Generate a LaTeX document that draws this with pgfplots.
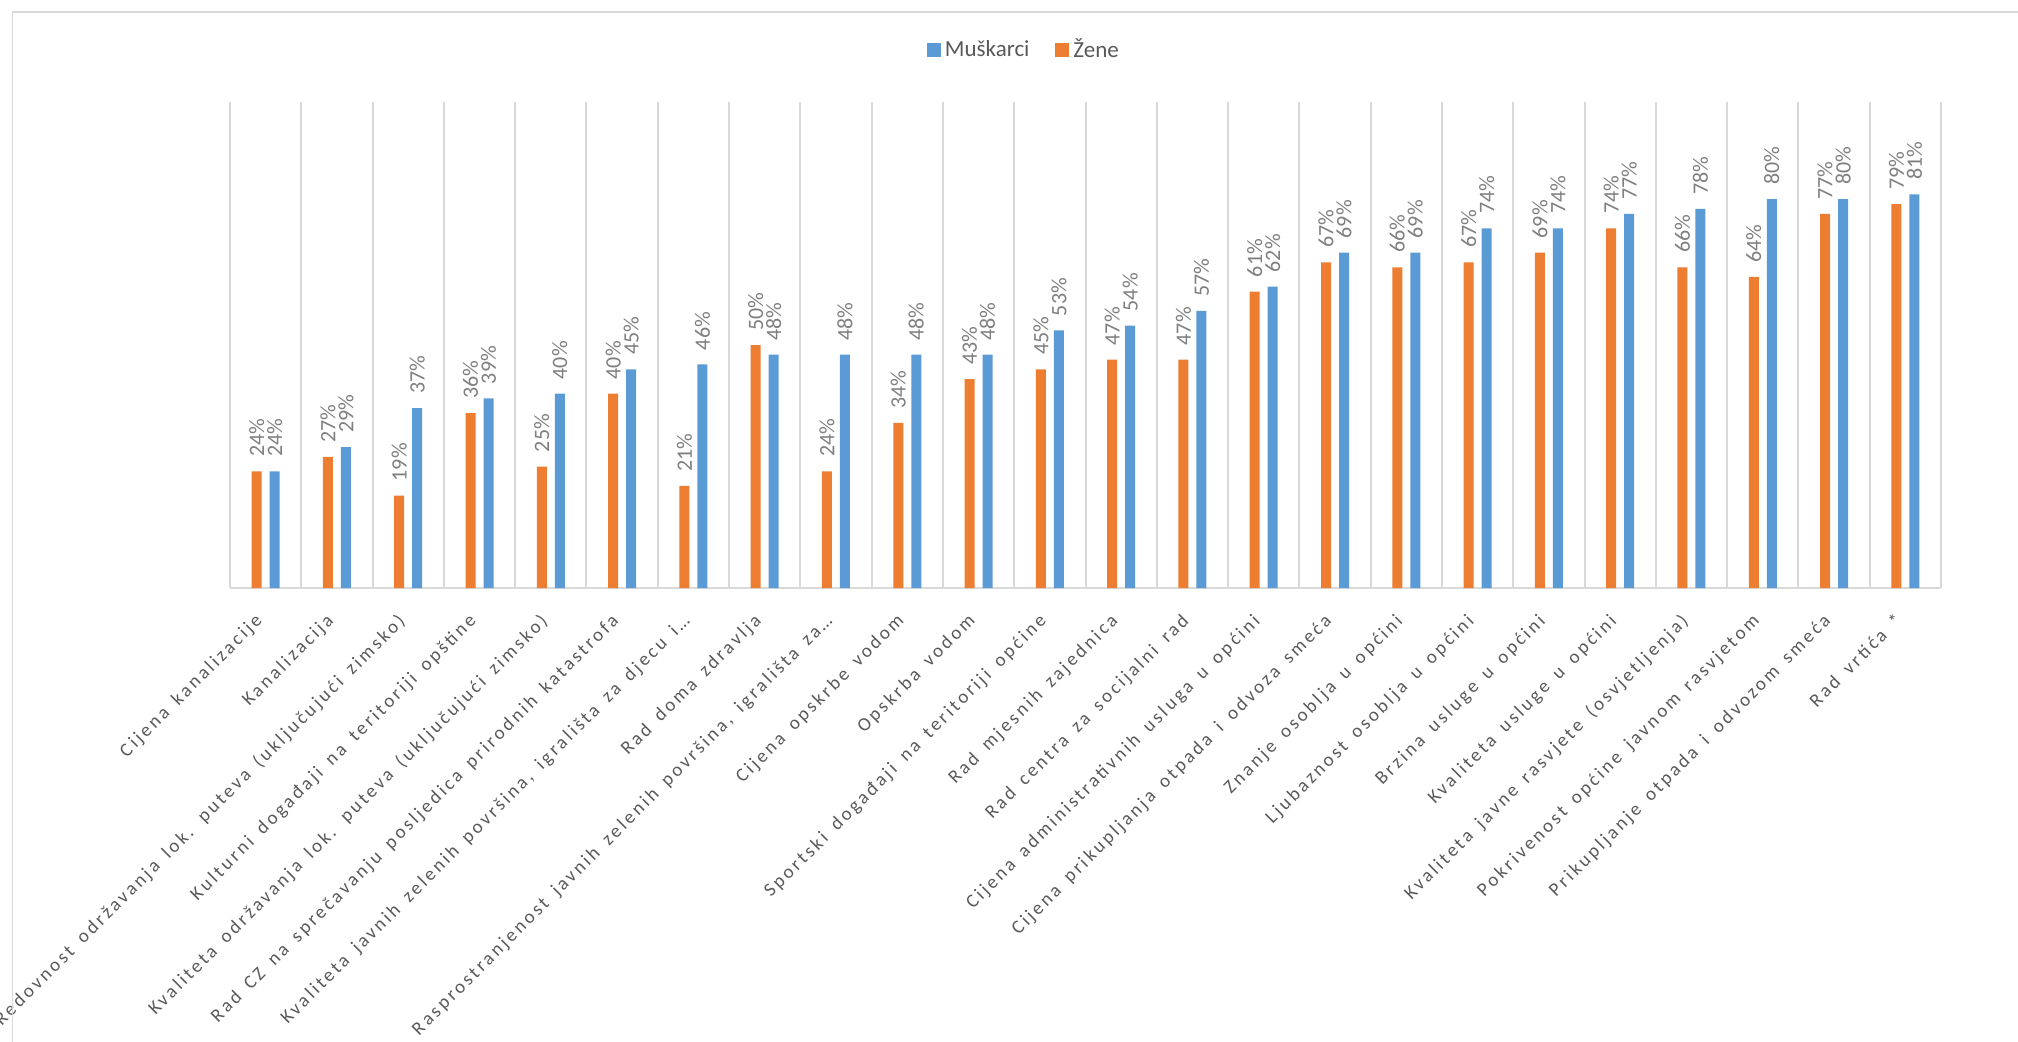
\documentclass[border=0pt]{standalone}
\usepackage{fontspec}
\setmainfont{Carlito}
\newfontfamily\lblfont[LetterSpace=15, WordSpace=1.6]{Carlito}
\usepackage{pgfplots}
\pgfplotsset{compat=1.18}
\definecolor{zene}{HTML}{ED7D31}
\definecolor{muski}{HTML}{5B9BD5}
\definecolor{gridc}{HTML}{D9D9D9}
\definecolor{txt}{HTML}{595959}
\definecolor{vals}{HTML}{7F7F7F}
\begin{document}
\begin{tikzpicture}
\begin{axis}[
    at={(0pt,0pt)}, anchor=south west,
    scale only axis, width=855.5pt, height=243pt,
    ybar=4pt, bar width=5pt,
    ymin=0, ymax=100, ytick=\empty,
    xmin=-0.5, xmax=23.5,
    xtick={0,...,23},
    minor xtick={-0.5,0.5,...,23.5},
    minor x grid style={gridc, line width=1pt},
    xminorgrids=true,
    major tick length=0pt, minor tick length=0pt,
    axis x line*=bottom, axis y line=none,
    axis line style={gridc, line width=1pt},
    x axis line style={-},
    clip=false,
    /pgf/number format/assume math mode=true,
    xticklabels={
      {Cijena kanalizacije},
      {Kanalizacija},
      {Redovnost održavanja lok. puteva (uključujući zimsko)},
      {Kulturni događaji na teritoriji opštine},
      {Kvaliteta održavanja lok. puteva (uključujući zimsko)},
      {Rad CZ na sprečavanju posljedica prirodnih katastrofa},
      {Kvaliteta javnih zelenih površina, igrališta za djecu i…},
      {Rad doma zdravlja},
      {Rasprostranjenost javnih zelenih površina, igrališta za…},
      {Cijena opskrbe vodom},
      {Opskrba vodom},
      {Sportski događaji na teritoriji općine},
      {Rad mjesnih zajednica},
      {Rad centra za socijalni rad},
      {Cijena administrativnih usluga u općini},
      {Cijena prikupljanja otpada i odvoza smeća},
      {Znanje osoblja u općini},
      {Ljubaznost osoblja u općini},
      {Brzina usluge u općini},
      {Kvaliteta usluge u općini},
      {Kvaliteta javne rasvjete (osvjetljenja)},
      {Pokrivenost općine javnom rasvjetom},
      {Prikupljanje otpada i odvozom smeća},
      {Rad vrtića *}
    },
    x tick label style={xshift=-6pt, yshift=-12pt, rotate=45,
      anchor=north east, inner sep=0pt,
      font=\lblfont\fontsize{9.5}{11}\selectfont, text=txt},
    nodes near coords={\pgfmathprintnumber{\pgfplotspointmeta}\%},
    every node near coord/.append style={rotate=90, anchor=west,
      inner xsep=7pt, inner ysep=0pt, text=vals,
      font=\fontsize{11}{12}\selectfont},
    legend columns=-1, reverse legend,
    legend style={at={(0.4646,1.107)}, anchor=center, draw=none,
      fill=none, font=\fontsize{11.5}{13}\selectfont, text=txt,
      /tikz/every even column/.append style={column sep=11pt}},
    legend image code/.code={\fill[#1] (0pt,-3.5pt) rectangle (7pt,3.5pt);},
]
% Zene
\addplot[fill=zene, draw=none] coordinates {
(0,24) (1,27) (2,19) (3,36) (4,25) (5,40) (6,21) (7,50) (8,24) (9,34)
(10,43) (11,45) (12,47) (13,47) (14,61) (15,67) (16,66) (17,67) (18,69)
(19,74) (20,66) (21,64) (22,77) (23,79)};
\addlegendentry{Žene}
% Muskarci
\addplot[fill=muski, draw=none] coordinates {
(0,24) (1,29) (2,37) (3,39) (4,40) (5,45) (6,46) (7,48) (8,48) (9,48)
(10,48) (11,53) (12,54) (13,57) (14,62) (15,69) (16,69) (17,74) (18,74)
(19,77) (20,78) (21,80) (22,80) (23,81)};
\addlegendentry{Muškarci}
\end{axis}
\draw[gridc, line width=0.7pt] (-108.6pt,-240pt) -- (-108.6pt,288.1pt) -- (900pt,288.1pt);
\pgfresetboundingbox
\useasboundingbox (-115pt,-226.5pt) rectangle (894pt,294pt);
\end{tikzpicture}
\end{document}
